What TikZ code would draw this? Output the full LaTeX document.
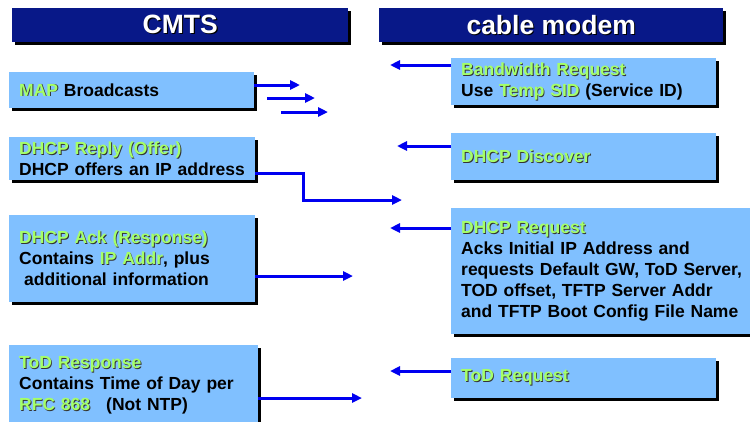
\documentclass[tikz,border=0pt]{standalone}
\usepackage{fontspec}
\setmainfont{Liberation Sans}
\usetikzlibrary{arrows.meta,shadows,calc}
\definecolor{boxblue}{RGB}{128,192,255}
\definecolor{hdrblue}{RGB}{8,24,136}
\definecolor{lgreen}{RGB}{165,255,105}
\definecolor{arrblue}{RGB}{0,0,240}
\newcommand\gtxt[1]{\leavevmode\rlap{\kern0.9pt\raisebox{-0.9pt}{\color{black!80}#1}}\textcolor{lgreen}{#1}}
\newcommand\wtxt[1]{\leavevmode\rlap{\kern1.2pt\raisebox{-1.2pt}{\color{black}#1}}\textcolor{white}{#1}}
\begin{document}
\begin{tikzpicture}[x=1pt,y=-1pt,
  hdr/.style={fill=hdrblue, anchor=north west, inner sep=0pt, minimum height=34pt,
    font=\bfseries\fontsize{26.5}{30}\selectfont,
    drop shadow={shadow xshift=3pt,shadow yshift=-3pt,fill=black,opacity=1}},
  box/.style={fill=boxblue, anchor=north west, inner xsep=10pt, inner ysep=0pt,
    align=left, font=\bfseries\fontsize{17.5}{21}\selectfont,
    drop shadow={shadow xshift=2.5pt,shadow yshift=-2.5pt,fill=black,opacity=1}},
  arr/.style={draw=arrblue, line width=3pt, -{Triangle[length=10pt,width=9pt]}}]
\clip (0,0) rectangle (750,421);
\fill[white] (0,0) rectangle (750,421);
% headers
\node[hdr, minimum width=336pt] (h1) at (12,8) {\wtxt{CMTS}};
\node[hdr, minimum width=344pt] (h2) at (379,8) {\wtxt{cable modem}};
% left boxes
\node[box, minimum width=245pt, minimum height=36pt, text width=225pt] (map) at (9,72)
  {\gtxt{MAP} Broadcasts};
\node[box, minimum width=246pt, minimum height=43pt, text width=226pt] (reply) at (9,137)
  {\gtxt{DHCP Reply (Offer)}\\DHCP offers an IP address};
\node[box, minimum width=246pt, minimum height=87pt, text width=226pt] (ack) at (9,215)
  {\gtxt{DHCP Ack (Response)}\\Contains \gtxt{IP Addr}, plus\\\hspace{5pt}additional information};
\node[box, minimum width=249pt, minimum height=80pt, text width=229pt] (todr) at (9,345)
  {\gtxt{ToD Response}\\Contains Time of Day per\\\gtxt{RFC 868}\hspace{16pt}(Not NTP)};
% right boxes
\node[box, minimum width=265pt, minimum height=47pt, text width=245pt] (bw) at (451,58)
  {\gtxt{Bandwidth Request}\\Use \gtxt{Temp SID} (Service ID)};
\node[box, minimum width=265pt, minimum height=47pt, text width=245pt] (disc) at (451,133)
  {\gtxt{DHCP Discover}};
\node[box, minimum width=320pt, minimum height=126pt, text width=300pt] (req) at (451,208)
  {\gtxt{DHCP Request}\\Acks Initial IP Address and\\requests Default GW, ToD Server,\\TOD offset, TFTP Server Addr\\and TFTP Boot Config File Name};
\node[box, minimum width=265pt, minimum height=40pt, text width=245pt] (todq) at (451,358)
  {\gtxt{ToD Request}};
% arrow end points
\coordinate (m1) at (300,85);
\coordinate (m2s) at (267,98);
\coordinate (m2) at (315,98);
\coordinate (m3s) at (281,112);
\coordinate (m3) at (328,112);
\coordinate (e1) at (390,65);
\coordinate (rb) at (303,200);
\coordinate (re) at (402,200);
\coordinate (e2) at (397,146);
\coordinate (e3) at (390,228);
\coordinate (e4) at (353,276);
\coordinate (e5) at (362,398);
\coordinate (e6) at (390,371);
% arrows
\draw[arr] (map.east |- m1) -- (m1);
\draw[arr] (m2s) -- (m2);
\draw[arr] (m3s) -- (m3);
\draw[arr] (bw.west |- e1) -- (e1);
\draw[arr] ($(reply.south east)+(0,-7)$) -| (rb) -- (re);
\draw[arr] (disc.west |- e2) -- (e2);
\draw[arr] (req.west |- e3) -- (e3);
\draw[arr] (ack.east |- e4) -- (e4);
\draw[arr] (todr.east |- e5) -- (e5);
\draw[arr] (todq.west |- e6) -- (e6);
\end{tikzpicture}
\end{document}
